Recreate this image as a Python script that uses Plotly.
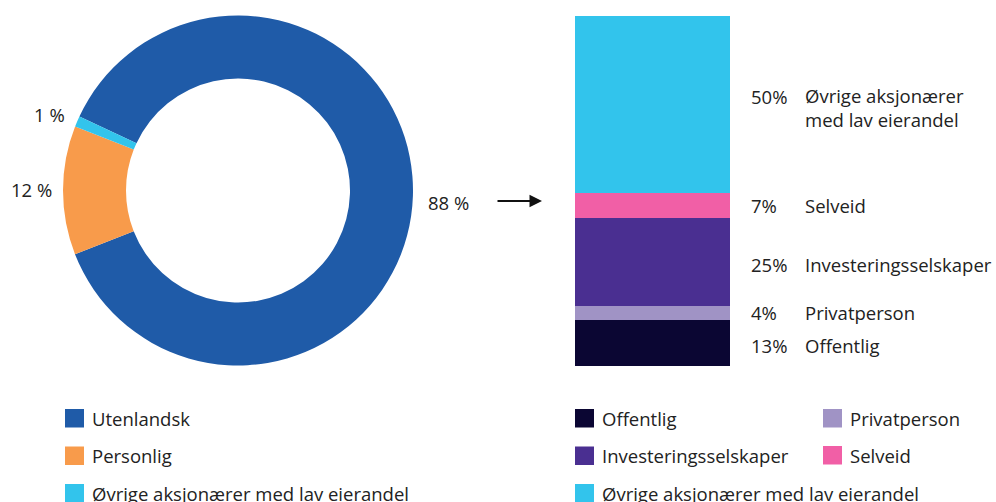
import plotly.graph_objects as go

# ---- data -------------------------------------------------------------
donut_labels = ["Utenlandsk", "Personlig", "Øvrige aksjonærer med lav eierandel"]
donut_values = [88, 12, 1]
donut_colors = ["#1F5BA8", "#F89B4B", "#32C4EC"]

bar_labels = ["Offentlig", "Privatperson", "Investeringsselskaper", "Selveid",
              "Øvrige aksjonærer med lav eierandel"]
bar_values = [13, 4, 25, 7, 50]
bar_colors = ["#0B0633", "#A093C5", "#4A2F91", "#F15FA6", "#32C4EC"]

# ---- layout helpers ---------------------------------------------------
W, H = 996, 502
FONT = "Open Sans"
TXT = "#222222"
FS = 18.5


def px(x):
    return x / W


def py(y):
    return 1 - y / H


fig = go.Figure()

# donut (left)
cx, cy, r = 238, 190.5, 175
fig.add_trace(go.Pie(
    labels=donut_labels, values=donut_values,
    marker=dict(colors=donut_colors, line=dict(width=0)),
    hole=0.64, sort=False, direction="clockwise", rotation=-65,
    textinfo="none", showlegend=False,
    domain=dict(x=[px(cx - r), px(cx + r)], y=[py(cy + r), py(cy - r)]),
))

# stacked bar (right)
for lab, val, col in zip(bar_labels, bar_values, bar_colors):
    fig.add_trace(go.Bar(
        x=[0], y=[val], name=lab, marker=dict(color=col, line=dict(width=0)),
        width=1, showlegend=False, hoverinfo="name+y",
    ))

annotations = []
shapes = []

# percentage labels around the donut
donut_label_pos = [(448, 202), (31, 189), (49, 114)]
for v, (x, y) in zip(donut_values, donut_label_pos):
    annotations.append(dict(
        text=f"{v} %", x=px(x), y=py(y), xref="paper", yref="paper",
        showarrow=False, xanchor="center", yanchor="middle",
        font=dict(family=FONT, size=FS, color=TXT)))

# arrow between the two charts
annotations.append(dict(
    x=px(542), y=py(201), xref="paper", yref="paper",
    ax=-46, ay=0, text="", showarrow=True,
    arrowhead=2, arrowsize=1.25, arrowwidth=2, arrowcolor="#111111",
    standoff=0, startstandoff=0))

# value and name labels beside each bar segment
pct_shift = {0: -2, 2: -3, 4: 8}
lab_shift = {0: -2, 2: -3, 4: -3}
base = 0
for i, (lab, val) in enumerate(zip(bar_labels, bar_values)):
    mid = base + val / 2
    base += val
    annotations.append(dict(
        text=f"{val}%", x=px(749), y=mid, xref="paper", yref="y",
        yshift=pct_shift.get(i, 0), showarrow=False,
        xanchor="left", yanchor="middle",
        font=dict(family=FONT, size=FS, color=TXT)))
    annotations.append(dict(
        text=lab.replace(" med", "<br>med"), x=px(803), y=mid,
        xref="paper", yref="y", yshift=lab_shift.get(i, 0),
        showarrow=False, xanchor="left", yanchor="middle", align="left",
        font=dict(family=FONT, size=FS, color=TXT)))


def legend_item(x, y, color, label):
    shapes.append(dict(type="rect", xref="paper", yref="paper",
                       x0=px(x), x1=px(x + 19), y0=py(y + 18.5), y1=py(y),
                       fillcolor=color, line=dict(width=0)))
    annotations.append(dict(
        text=label, x=px(x + 25), y=py(y + 9), xref="paper", yref="paper",
        showarrow=False, xanchor="left", yanchor="middle",
        font=dict(family=FONT, size=FS, color=TXT)))


# legend for the donut
rows = [409, 446.5, 484]
for lab, col, y in zip(donut_labels, donut_colors, rows):
    legend_item(65, y, col, lab)

# legend for the bar
bar_legend_pos = {
    "Offentlig": (575, 409),
    "Privatperson": (823, 409),
    "Investeringsselskaper": (575, 446.5),
    "Selveid": (823, 446),
    "Øvrige aksjonærer med lav eierandel": (575, 484),
}
for lab, col in zip(bar_labels, bar_colors):
    x, y = bar_legend_pos[lab]
    legend_item(x, y, col, lab)

fig.update_layout(
    width=W, height=H, margin=dict(l=0, r=0, t=0, b=0),
    paper_bgcolor="white", plot_bgcolor="white",
    barmode="stack", bargap=0,
    xaxis=dict(domain=[px(575), px(730)], range=[-0.5, 0.5], visible=False,
               fixedrange=True),
    yaxis=dict(domain=[py(366), py(16)], range=[0, sum(bar_values)],
               visible=False, fixedrange=True),
    annotations=annotations, shapes=shapes,
    font=dict(family=FONT, color=TXT),
)

fig.write_html("out.html", config={"displayModeBar": False})
